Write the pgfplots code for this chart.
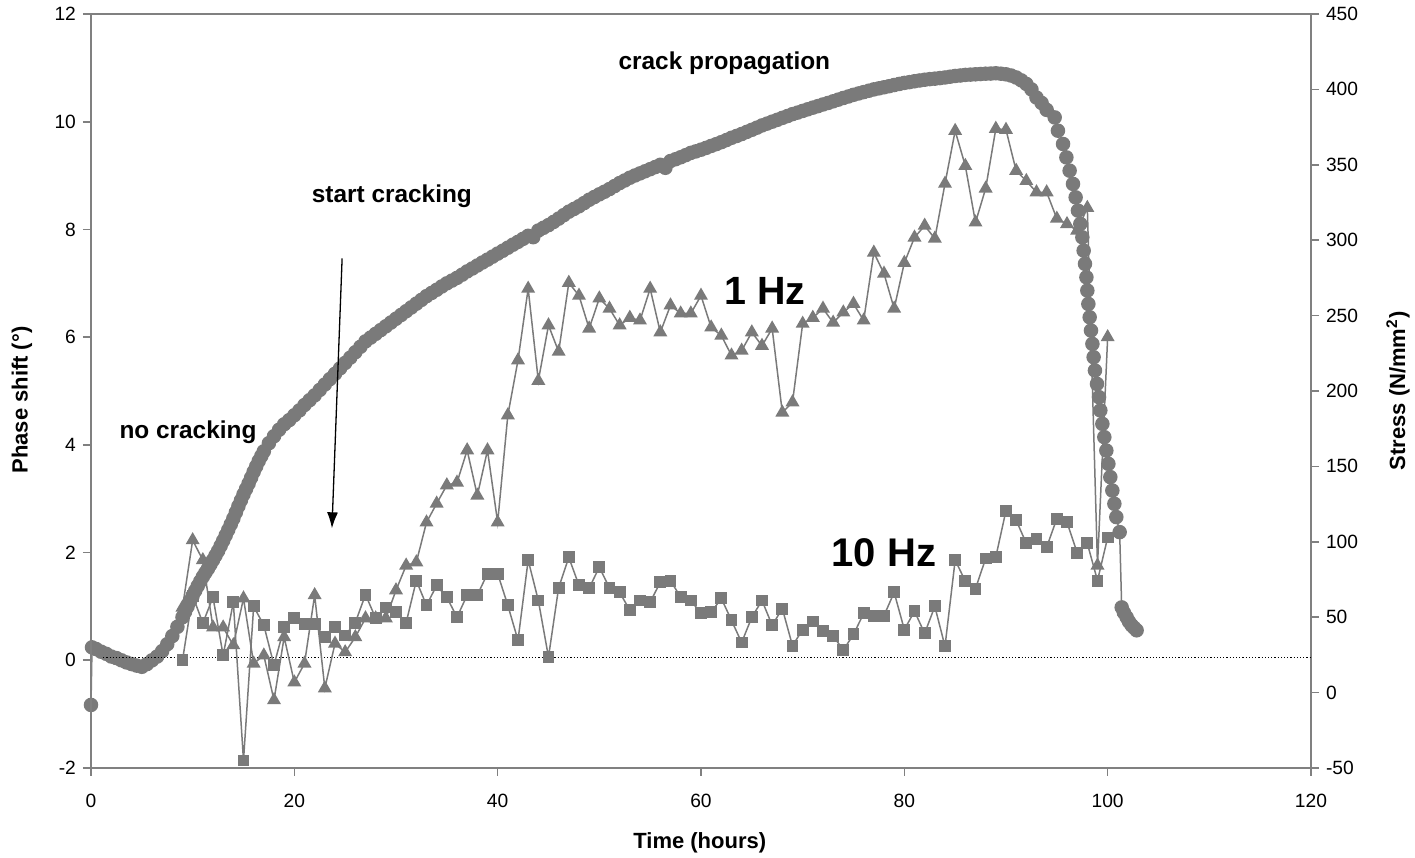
\documentclass[border=0pt]{standalone}
\usepackage{pgfplots}
\pgfplotsset{compat=1.18}
\usepackage{fontspec}
\setmainfont{Liberation Sans}
\usetikzlibrary{arrows.meta}

\definecolor{seriesgray}{RGB}{122,122,122}
\definecolor{axisgray}{RGB}{128,128,128}

% Stress, right axis (N/mm^2)
\pgfplotstableread{
t S
0 -8.2
0.1 30.0
0.5 28.9
1 27.1
1.5 25.7
2 23.9
2.5 22.9
3 21.4
3.5 20.0
4 18.9
4.5 17.9
5 17.1
5.5 18.9
6 21.4
6.5 23.9
7 27.5
7.5 32.1
8 37.5
8.5 43.6
9 50.0
9.25 53.5
9.5 57.1
9.75 60.7
10 64.3
10.25 67.5
10.5 70.7
10.75 73.8
11 76.8
11.25 79.5
11.5 82.1
11.75 85.0
12 87.9
12.25 90.9
12.5 93.9
12.75 97.3
13 100.7
13.25 104.3
13.5 107.9
13.75 111.6
14 115.4
14.25 119.5
14.5 123.6
14.75 127.5
15 131.4
15.25 135.0
15.5 138.6
15.75 142.5
16 146.4
16.25 150.0
16.5 153.6
16.75 156.8
17 160.0
17.5 165.4
18 170.0
18.5 174.3
19 177.9
19.5 180.7
20 183.9
20.5 187.1
21 190.7
21.5 193.9
22 197.1
22.5 200.7
23 204.3
23.5 207.9
24 211.4
24.5 215.0
25 218.6
25.5 222.1
26 225.7
26.5 229.3
27 232.9
27.5 235.4
28 237.9
28.5 240.4
29 242.9
29.5 245.4
30 247.9
30.5 250.4
31 252.9
31.5 255.4
32 257.9
32.5 260.4
33 262.9
33.5 265.0
34 267.1
34.5 269.3
35 271.4
35.5 273.2
36 275.0
36.5 277.1
37 279.3
37.5 281.2
38 283.2
38.5 285.2
39 287.1
39.5 289.1
40 291.1
40.5 293.0
41 295.0
41.5 297.0
42 298.9
42.5 300.9
43 302.9
43.5 302.0
44 306.4
44.5 308.2
45 310.0
45.5 312.1
46 314.3
46.5 316.6
47 318.9
47.5 320.7
48 322.5
48.5 324.6
49 326.8
49.5 328.6
50 330.4
50.5 332.1
51 333.9
51.5 335.9
52 337.9
52.5 339.6
53 341.4
53.5 342.9
54 344.3
54.5 345.7
55 347.1
55.5 348.5
56 350.0
56.5 348.0
57 352.5
57.5 353.7
58 355.0
58.5 356.4
59 357.9
59.5 358.9
60 360.0
60.5 361.2
61 362.5
61.5 363.7
62 365.0
62.5 366.4
63 367.9
63.5 369.1
64 370.4
64.5 371.8
65 373.2
65.5 374.6
66 376.1
66.5 377.3
67 378.6
67.5 379.8
68 381.1
68.5 382.3
69 383.6
69.5 384.6
70 385.7
70.5 386.8
71 387.9
71.5 388.9
72 390.0
72.5 391.0
73 392.1
73.5 393.2
74 394.3
74.5 395.3
75 396.4
75.5 397.3
76 398.2
76.5 399.1
77 400.0
77.5 400.7
78 401.4
78.5 402.1
79 402.9
79.5 403.6
80 404.3
80.5 404.8
81 405.4
81.5 405.9
82 406.4
82.5 406.8
83 407.1
83.5 407.5
84 407.9
84.5 408.4
85 408.9
85.5 409.2
86 409.6
86.5 409.8
87 410.0
87.5 410.2
88 410.4
88.5 410.5
89 410.7
89.5 410.4
90 410.0
90.5 409.2
91 407.9
91.5 406.0
92 403.6
92.5 400.0
93 394.6
93.5 391.0
94 386.4
94.79 381.4
95.11 372.6
95.61 363.8
95.94 354.9
96.26 346.1
96.59 337.3
96.85 328.4
97.08 319.6
97.31 310.8
97.51 301.9
97.64 293.1
97.77 284.3
97.91 275.4
98.0 266.6
98.1 257.7
98.23 248.9
98.36 240.1
98.5 231.2
98.62 222.4
98.75 213.6
98.95 204.7
99.15 195.9
99.28 187.1
99.48 178.2
99.67 169.4
99.87 160.5
100.07 151.7
100.26 142.9
100.46 134.0
100.66 125.2
100.85 116.4
101.18 106.4
101.38 56.5
101.6 53.0
101.87 49.9
102.1 47.0
102.36 44.6
102.6 43.0
102.85 41.3
}\stressdata

% Phase shift at 1 Hz (degrees)
\pgfplotstableread{
t p
9 0.98
10 2.23
11 1.86
12 0.61
13 0.61
14 0.28
15 1.15
16 -0.06
17 0.09
18 -0.74
19 0.43
20 -0.41
21 -0.06
22 1.21
23 -0.52
24 0.31
25 0.15
26 0.43
27 0.78
28 0.78
29 0.78
30 1.30
31 1.76
32 1.82
33 2.56
34 2.91
35 3.25
36 3.30
37 3.90
38 3.06
39 3.90
40 2.56
41 4.55
42 5.57
43 6.90
44 5.19
45 6.22
46 5.73
47 7.01
48 6.77
49 6.16
50 6.72
51 6.53
52 6.22
53 6.36
54 6.31
55 6.90
56 6.09
57 6.59
58 6.44
59 6.44
60 6.77
61 6.18
62 6.03
63 5.66
64 5.75
65 6.09
66 5.84
67 6.16
68 4.60
69 4.79
70 6.25
71 6.36
72 6.53
73 6.27
74 6.46
75 6.62
76 6.31
77 7.57
78 7.18
79 6.53
80 7.38
81 7.85
82 8.07
83 7.83
84 8.85
85 9.83
86 9.18
87 8.13
88 8.76
89 9.87
90 9.85
91 9.09
92 8.90
93 8.69
94 8.69
95 8.20
96 8.10
97 7.98
98 8.40
99 1.76
100 6.00
}\onehz

% Phase shift at 10 Hz (degrees)
\pgfplotstableread{
t p
9 0.00
10 1.20
11 0.69
12 1.17
13 0.09
14 1.08
15 -1.86
16 1.00
17 0.65
18 -0.09
19 0.61
20 0.78
21 0.67
22 0.67
23 0.43
24 0.61
25 0.46
26 0.70
27 1.22
28 0.78
29 0.98
30 0.89
31 0.70
32 1.48
33 1.02
34 1.39
35 1.17
36 0.80
37 1.21
38 1.21
39 1.61
40 1.61
41 1.02
42 0.37
43 1.86
44 1.11
45 0.06
46 1.35
47 1.91
48 1.39
49 1.34
50 1.73
51 1.34
52 1.26
53 0.93
54 1.11
55 1.08
56 1.45
57 1.48
58 1.17
59 1.11
60 0.87
61 0.89
62 1.15
63 0.74
64 0.33
65 0.80
66 1.11
67 0.65
68 0.96
69 0.27
70 0.57
71 0.72
72 0.54
73 0.45
74 0.19
75 0.48
76 0.87
77 0.83
78 0.83
79 1.26
80 0.57
81 0.91
82 0.50
83 1.00
84 0.26
85 1.86
86 1.47
87 1.33
88 1.89
89 1.92
90 2.78
91 2.60
92 2.17
93 2.26
94 2.10
95 2.63
96 2.56
97 2.00
98 2.17
99 1.48
100 2.28
}\tenhz

\pgfplotsset{
  common/.style={
    width=610pt, height=377pt, scale only axis,
    xmin=0, xmax=120,
    tick align=outside,
    major tick length=4pt,
    every tick/.style={axisgray, line width=0.8pt},
    /pgf/number format/assume math mode=true,
    tick label style={font=\fontsize{9.6}{11}\selectfont},
    label style={font=\bfseries\fontsize{11}{13}\selectfont},
  },
  series/.style={seriesgray, line width=0.75pt,
    mark options={fill=seriesgray, draw=seriesgray, solid}},
}

\begin{document}
\begin{tikzpicture}
% stress on the secondary (right) axis
\begin{axis}[common,
  axis x line=none,
  axis y line*=right,
  y axis line style={axisgray, line width=0.8pt},
  ymin=-50, ymax=450, ytick={-50,0,...,450},
  ylabel={Stress (N/mm\textsuperscript{2})},
  ylabel style={at={(axis description cs:1.0713,0.5)}, anchor=center, rotate=0},
]
\addplot[series, mark=*, mark size=3.25pt] table[x=t, y=S] {\stressdata};
\end{axis}

% phase shift on the primary (left) axis
\begin{axis}[common,
  axis line style={axisgray, line width=0.8pt},
  ymin=-2, ymax=12, ytick={-2,0,...,12},
  xtick={0,20,...,120},
  tick pos=left,
  xticklabel style={yshift=-5.5pt},
  xlabel={Time (hours)},
  ylabel={Phase shift (°)},
  xlabel style={at={(axis description cs:0.499,-0.0995)}, anchor=center},
  ylabel style={at={(axis description cs:-0.0566,0.488)}, anchor=center},
  clip=false,
]
\addplot[black, densely dotted, line width=0.6pt] coordinates {(1.2,0.05) (120,0.05)};
\addplot[series, mark=triangle*, mark size=3.3pt] table[x=t, y=p] {\onehz};
\addplot[series, mark=square*, mark size=2.6pt] table[x=t, y=p] {\tenhz};

\draw[black, line width=0.65pt, -{Latex[length=8pt,width=5.5pt]}]
  (axis cs:24.7,7.46) -- (axis cs:23.7,2.45);

\begin{scope}[every node/.style={font=\bfseries\fontsize{12.2}{14}\selectfont, inner sep=0pt}]
  \node at (axis cs:62.3,11.09) {crack propagation};
  \node at (axis cs:29.6,8.61) {start cracking};
  \node at (axis cs:9.54,4.23) {no cracking};
\end{scope}
\node[font=\bfseries\fontsize{19.7}{22}\selectfont, inner sep=0pt] at (axis cs:66.3,6.86) {1 Hz};
\node[font=\bfseries\fontsize{20}{22}\selectfont, inner sep=0pt] at (axis cs:78.0,1.99) {10 Hz};

\coordinate (bbl) at (axis description cs:-0.07459,-0.11936);
\coordinate (btr) at (axis description cs:1.08525,1.01857);
\end{axis}
\pgfresetboundingbox
\useasboundingbox (bbl) rectangle (btr);
\end{tikzpicture}
\end{document}
